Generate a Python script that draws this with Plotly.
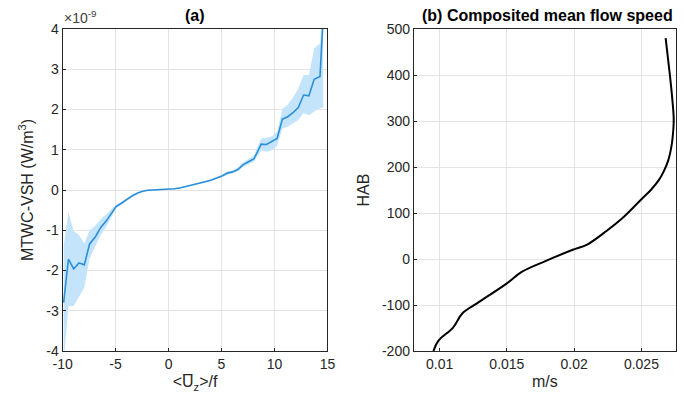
import plotly.graph_objects as go

# ---- Panel (a) data (values in units of 1e-9 W/m^3) ----
uz_f = [-9.9, -9.45, -8.95, -8.45, -7.95, -7.45, -6.9, -6.4, -5.85, -5.4, -4.95, -4.45,
        -3.95, -3.45, -2.95, -2.45, -1.95, -1.45, -0.95, -0.45, 0.05, 0.55, 1.05, 1.55,
        2.05, 2.55, 3.05, 3.55, 4.05, 4.55, 5.05, 5.55, 6.05, 6.55, 7.05, 7.55, 8.05, 8.25,
        8.75, 9.25, 9.75, 10.25, 10.75, 11.25, 11.75, 12.25, 12.75, 13.25, 13.75, 14.3, 14.6]
mtwc = [-2.80, -1.72, -1.96, -1.81, -1.86, -1.34, -1.16, -0.93, -0.76, -0.58, -0.41, -0.33,
        -0.23, -0.15, -0.08, -0.03, -0.005, 0.0, 0.0, 0.005, 0.015, 0.03, 0.05, 0.08,
        0.11, 0.14, 0.17, 0.21, 0.25, 0.30, 0.35, 0.42, 0.45, 0.51, 0.63, 0.70, 0.77, 0.87,
        1.14, 1.13, 1.20, 1.28, 1.76, 1.82, 1.92, 2.05, 2.36, 2.34, 2.75, 2.82, 4.3]
mtwc_upper = [-1.4, -0.56, -1.02, -1.12, -1.33, -1.0, -0.88, -0.72, -0.6, -0.48, -0.36, -0.30,
              -0.21, -0.135, -0.065, -0.02, 0.01, 0.015, 0.015, 0.02, 0.03, 0.045, 0.065, 0.095,
              0.125, 0.155, 0.19, 0.23, 0.27, 0.32, 0.38, 0.46, 0.49, 0.56, 0.69, 0.77, 0.85, 0.98,
              1.28, 1.30, 1.33, 1.45, 2.02, 2.12, 2.30, 2.52, 2.86, 2.86, 3.52, 3.64, 4.6]
mtwc_lower = [-4.3, -2.88, -2.88, -2.65, -2.42, -1.7, -1.4, -1.12, -0.9, -0.66, -0.46, -0.36,
              -0.25, -0.165, -0.095, -0.04, -0.02, -0.015, -0.015, -0.01, 0.0, 0.015, 0.035, 0.065,
              0.095, 0.125, 0.15, 0.19, 0.23, 0.28, 0.32, 0.38, 0.41, 0.47, 0.58, 0.64, 0.70, 0.78,
              0.98, 0.95, 0.98, 1.10, 1.53, 1.57, 1.65, 1.74, 1.91, 1.86, 1.95, 2.03, 2.05]

# ---- Panel (b) data ----
hab = [-200, -178, -149, -118, -96, -53, -28, -4, 20, 32, 61, 92, 130, 150, 172, 190,
       215, 240, 259, 302, 346, 404, 480]
speed = [0.00954, 0.0099, 0.0110, 0.0117, 0.0128, 0.0150, 0.0161, 0.0179, 0.0199, 0.0210,
         0.0224, 0.0237, 0.0250, 0.0257, 0.0263, 0.02665, 0.0270, 0.0272, 0.0273, 0.0274,
         0.0273, 0.0271, 0.0268]

FONT = "Liberation Sans, Arial, sans-serif"
AXC = "#262626"
GRID = "#e3e3e3"
TICK = 14
LAB = 16

fig = go.Figure()
fig.add_trace(go.Scatter(x=uz_f, y=mtwc_lower, mode="lines", line=dict(width=0),
                         hoverinfo="skip", showlegend=False, xaxis="x", yaxis="y"))
fig.add_trace(go.Scatter(x=uz_f, y=mtwc_upper, mode="lines", line=dict(width=0),
                         fill="tonexty", fillcolor="rgba(196,228,252,1)",
                         hoverinfo="skip", showlegend=False, xaxis="x", yaxis="y"))
fig.add_trace(go.Scatter(x=uz_f, y=mtwc, mode="lines", line=dict(color="#2b8fd8", width=1.6),
                         showlegend=False, xaxis="x", yaxis="y"))
fig.add_trace(go.Scatter(x=speed, y=hab, mode="lines", line=dict(color="black", width=2),
                         line_shape="spline", showlegend=False, xaxis="x2", yaxis="y2"))

axis_common = dict(showline=True, linecolor=AXC, linewidth=1, mirror=True,
                   showgrid=True, gridcolor=GRID, gridwidth=1, zeroline=False,
                   ticks="inside", ticklen=3, tickcolor=AXC,
                   tickfont=dict(family=FONT, size=TICK, color=AXC))

fig.update_layout(
    width=684, height=400,
    margin=dict(l=0, r=0, t=29, b=49),
    paper_bgcolor="white", plot_bgcolor="white",
    font=dict(family=FONT, color=AXC),
    xaxis=dict(domain=[54/684, 326/684], range=[-10, 15], tickvals=[-10, -5, 0, 5, 10, 15],
               ticktext=["-10", "-5", "0", "5", "10", "15"],
               title=dict(text="&lt;U\u0305<sub>z</sub>&gt;/f", font=dict(size=LAB, family=FONT, color=AXC),
                          standoff=5),
               anchor="y", **axis_common),
    yaxis=dict(range=[-4, 4], tickvals=[-4, -3, -2, -1, 0, 1, 2, 3, 4],
               ticktext=["-4", "-3", "-2", "-1", "0", "1", "2", "3", "4"],
               title=dict(text="MTWC-VSH (W/m<sup>3</sup>)", font=dict(size=LAB, family=FONT, color=AXC),
                          standoff=8),
               anchor="x", **axis_common),
    xaxis2=dict(domain=[414.7/684, 1.0], range=[0.00808, 0.02757],
                tickvals=[0.01, 0.015, 0.02, 0.025], ticktext=["0.01", "0.015", "0.02", "0.025"],
                title=dict(text="m/s", font=dict(size=LAB, family=FONT, color=AXC), standoff=5),
                anchor="y2", **axis_common),
    yaxis2=dict(range=[-200, 500], tickvals=[-200, -100, 0, 100, 200, 300, 400, 500],
                ticktext=["-200", "-100", "0", "100", "200", "300", "400", "500"],
                title=dict(text="HAB", font=dict(size=LAB, family=FONT, color=AXC), standoff=8),
                anchor="x2", **axis_common),
    annotations=[
        dict(text="<b>(a)</b>", x=190/684, y=1 + 13/322, xref="paper", yref="paper",
             xanchor="center", yanchor="middle", showarrow=False,
             font=dict(family=FONT, size=16, color="black")),
        dict(text="<b>(b) Composited mean flow speed</b>", x=552/684, y=1 + 13/322,
             xref="paper", yref="paper", xanchor="center", yanchor="middle", showarrow=False,
             font=dict(family=FONT, size=16, color="black")),
        dict(text="\u00d710<sup>-9</sup>", x=53/684, y=1 + 12/322, xref="paper", yref="paper",
             xanchor="left", yanchor="middle", showarrow=False,
             font=dict(family=FONT, size=14, color="#404040")),
    ],
)

fig.write_html("out.html")
